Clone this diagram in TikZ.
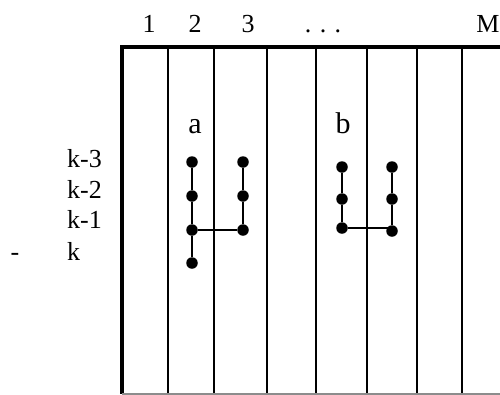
\documentclass[tikz,border=0pt]{standalone}
\usepackage{fontspec}
\setmainfont{Liberation Serif}
\usetikzlibrary{positioning}

\tikzset{
  dot/.style={circle, fill=black, inner sep=0pt, minimum size=11.5pt},
  link/.style={line width=1.2pt},
  colline/.style={line width=2.2pt},
  rimline/.style={line width=3.2pt},
  lab/.style={inner sep=0pt, anchor=base, font=\fontsize{26}{30}\selectfont},
  slab/.style={inner sep=0pt, anchor=base, font=\fontsize{30}{34}\selectfont}
}

\begin{document}
\begin{tikzpicture}[x=1pt, y=-1pt]
\useasboundingbox (0,0) rectangle (500,394);
%
% column grid
\draw[rimline] (500,47) -- (122,47) -- (122,394);
\foreach \cx in {168,214,267,316,367,417,462}
  \draw[colline] (\cx,47) -- (\cx,394);
\draw[colline, black!45] (122,394) -- (500,394);
%
% column numbers
\node[lab] (n1)   at (149,32) {1};
\node[lab] (n2)   at (195,32) {2};
\node[lab] (n3)   at (248,32) {3};
\node[lab] (ndot) at (323,32) {.\hspace{0.32em}.\hspace{0.32em}.};
\node[lab] (nM)   at (488,32) {M};
%
% row labels
\node[lab, anchor=base west] (r3) at (67,167) {k-3};
\node[lab, anchor=base west] (r2) at (67,198) {k-2};
\node[lab, anchor=base west] (r1) at (67,228) {k-1};
\node[lab, anchor=base west] (r0) at (67,260) {k};
\node[lab] (dash) at (15,260) {-};
%
% patterns
\node[slab] (pa) at (195,133) {a};
\node[slab] (pb) at (343,133) {b};
%
\node[dot] (al1) at (192,162) {};
\node[dot] (al2) at (192,196) {};
\node[dot] (al3) at (192,230) {};
\node[dot] (al4) at (192,263) {};
\node[dot] (ar1) at (243,162) {};
\node[dot] (ar2) at (243,196) {};
\node[dot] (ar3) at (243,230) {};
%
\node[dot] (bl1) at (342,167) {};
\node[dot] (bl2) at (342,199) {};
\node[dot] (bl3) at (342,228) {};
\node[dot] (br1) at (392,167) {};
\node[dot] (br2) at (392,199) {};
\node[dot] (br3) at (392,231) {};
%
\draw[link] (al1) -- (al2) -- (al3) -- (al4);
\draw[link] (ar1) -- (ar2) -- (ar3);
\draw[link] (al3) -- (ar3);
\draw[link] (bl1) -- (bl2) -- (bl3);
\draw[link] (br1) -- (br2) -- (br3);
\draw[link] (bl3) -- (bl3 -| br3);
%
\end{tikzpicture}
\end{document}
